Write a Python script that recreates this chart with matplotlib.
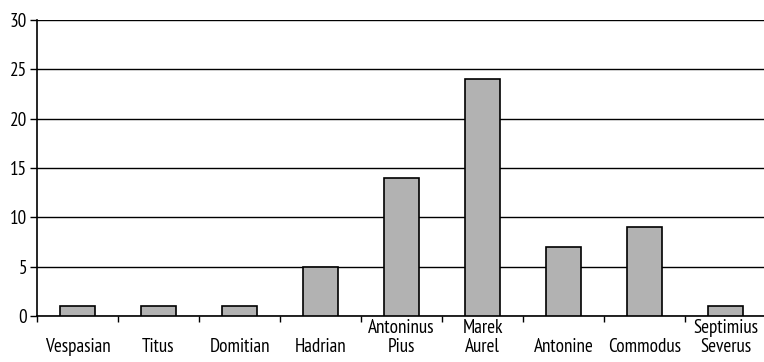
import matplotlib
matplotlib.use("Agg")
from matplotlib import pyplot as plt
import numpy as np

emperors = ["Vespasian", "Titus", "Domitian", "Hadrian", "Antoninus\nPius",
            "Marek\nAurel", "Antonine", "Commodus", "Septimius\nSeverus"]
counts = [1, 1, 1, 5, 14, 24, 7, 9, 1]

plt.rcParams['font.family'] = ['PT Sans Narrow', 'DejaVu Sans']
plt.rcParams['font.size'] = 13.8

fig = plt.figure(figsize=(7.64, 3.62), dpi=100)
ax = fig.add_axes([37 / 764, 1 - 316 / 362, 729 / 764, 296 / 362])

x = np.arange(len(emperors))
ax.bar(x, counts, width=0.42, color='#b2b2b2', edgecolor='black', linewidth=1.2, zorder=3)

ax.set_xlim(-0.5, len(emperors) - 0.5)
ax.set_ylim(0, 30)
ax.set_yticks(range(0, 31, 5))
ax.yaxis.grid(True, color='black', linewidth=1)
ax.set_axisbelow(True)

# category labels centred, separator ticks on the boundaries
ax.set_xticks(x)
ax.set_xticklabels(emperors, va='bottom', linespacing=1.1)
ax.tick_params(axis='x', which='major', length=0, pad=29)
ax.set_xticks(np.arange(-0.5, len(emperors), 1), minor=True)
ax.tick_params(axis='x', which='minor', length=4, width=1, color='black', direction='out')
ax.tick_params(axis='y', length=5, width=1, pad=2)

for side in ['top', 'right']:
    ax.spines[side].set_visible(False)
ax.spines['left'].set_linewidth(1.2)
ax.spines['bottom'].set_linewidth(1.2)

fig.savefig("out.png", dpi=100)
